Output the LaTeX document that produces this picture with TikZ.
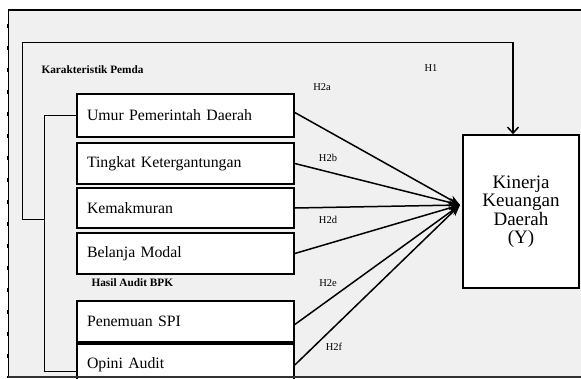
\documentclass[tikz,border=0pt]{standalone}
\usepackage{fontspec}
\setmainfont{Liberation Serif}
\usetikzlibrary{arrows.meta}
\definecolor{fond}{HTML}{F0F0F0}
\begin{document}
\begin{tikzpicture}[x=1pt,y=-1pt,
    varbox/.style={draw,line width=1.6pt,fill=white,text width=197pt,inner xsep=10pt,align=left,font=\fontsize{15.8}{18}\selectfont},
    hyp/.style={font=\fontsize{10.5}{12}\selectfont},
    groupe/.style={font=\bfseries\fontsize{11.3}{13}\selectfont},
    fleche/.style={line width=1.5pt,-{Stealth[length=11pt,width=9pt]}}]
    \useasboundingbox (0,0) rectangle (581,378);
    \fill[fond] (8,10) rectangle (581,378);%fond gris
    % les boites
    \node[varbox,minimum height=43pt] (umur) at (185.5,115.5) {Umur Pemerintah Daerah};
    \node[varbox,minimum height=41pt] (tingkat) at (185.5,163.5) {Tingkat Ketergantungan};
    \node[varbox,minimum height=40pt] (makmur) at (185.5,208) {Kemakmuran};
    \node[varbox,minimum height=41pt] (belanja) at (185.5,253.5) {Belanja Modal};
    \node[varbox,minimum height=41pt] (spi) at (185.5,321.5) {Penemuan SPI};
    \node[varbox,minimum height=42pt] (opini) at (185.5,365) {Opini Audit};
    \node[draw,line width=1.6pt,fill=white,minimum width=116pt,minimum height=153pt,align=center,font=\fontsize{19}{18.5}\selectfont] (kinerja) at (521,211.5) {Kinerja\\Keuangan\\Daerah\\(Y)};
    \node[groupe,anchor=west] (karak) at (38,70) {Karakteristik Pemda};
    \node[groupe,anchor=west] (hasil) at (88,283) {Hasil Audit BPK};
    % crochets
    \draw[line width=0.9pt] (umur.west) -- ++(-32,0) coordinate (cg) |- ([yshift=-6pt]opini.west);
    \coordinate (cb) at (cg |- 0,219);
    \coordinate (hb) at (22,219);
    \coordinate (hh) at (513,42);
    \draw[line width=0.9pt] (cb) -- (hb) |- (hh);
    \draw[line width=1.5pt,-{Straight Barb[length=6pt,width=11pt,line width=1.5pt]}] (hh) -- (hh |- kinerja.north);
    % fleches vers Y
    \coordinate (tip) at (460,205);
    \draw[fleche] ([yshift=3pt]umur.east) -- (tip);
    \draw[fleche] (tingkat.east) -- (tip);
    \draw[fleche] (makmur.east) -- (tip);
    \draw[fleche] (belanja.east) -- (tip);
    \draw[fleche] ([yshift=-3pt]spi.east) -- (tip);
    \draw[fleche] (opini.east) -- (tip);
    \node[hyp] (h1) at (431,68) {H1};
    \node[hyp] (h2a) at (322,87) {H2a};
    \node[hyp] (h2b) at (328,158) {H2b};
    \node[hyp] (h2d) at (328,220) {H2d};
    \node[hyp] (h2e) at (328,283) {H2e};
    \node[hyp] (h2f) at (334,347) {H2f};
    % bords
    \draw[line width=1.8pt] (8,10) -- (581,10);
    \draw[line width=0.8pt] (8,10) -- (8,378);
    \draw[line width=2pt,dash pattern=on 4pt off 18pt] (8,24) -- (8,378);
    \draw[line width=1.5pt,black!80] (8,377) -- (581,377);
\end{tikzpicture}
\end{document}
